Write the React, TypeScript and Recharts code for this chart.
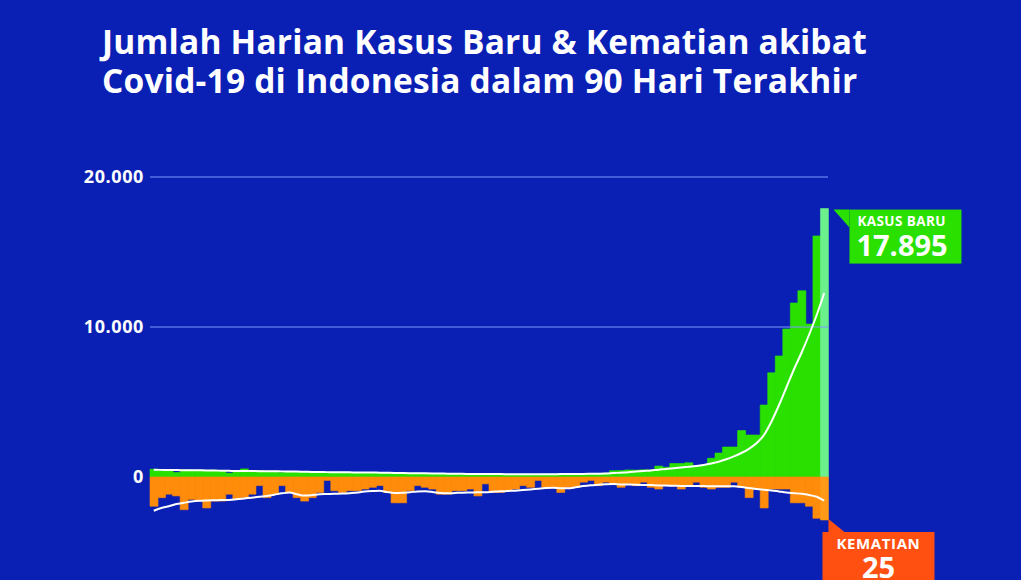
import React from 'react';
import { ComposedChart, Bar, Line, XAxis, YAxis, ReferenceLine, Cell } from 'recharts';

// daily new cases, last 90 days
const newCases = [
  520, 480, 500, 300, 480, 470, 450, 440, 460, 430,
  260, 420, 540, 400, 420, 380, 390, 300, 370, 360,
  350, 330, 340, 300, 320, 310, 300, 280, 260, 300,
  280, 270, 260, 250, 240, 250, 230, 200, 210, 220,
  200, 190, 210, 200, 180, 190, 200, 180, 170, 190,
  180, 170, 200, 190, 210, 220, 200, 210, 230, 240,
  260, 420, 430, 470, 460, 480, 470, 730, 650, 900,
  900, 950, 750, 800, 1250, 1600, 2000, 2000, 3100, 2800,
  2800, 4800, 6950, 8070, 9870, 11600, 12420, 10200, 16070, 17895,
];

// 7-day average of new cases
const casesAvg = [
  480, 475, 470, 460, 455, 450, 445, 440, 430, 420,
  410, 400, 400, 395, 390, 385, 380, 375, 370, 360,
  350, 340, 335, 325, 320, 315, 310, 305, 300, 295,
  290, 280, 270, 262, 255, 250, 242, 235, 228, 222,
  215, 210, 205, 200, 198, 195, 192, 190, 188, 186,
  185, 185, 186, 188, 192, 196, 200, 205, 212, 220,
  230, 260, 290, 320, 360, 400, 440, 490, 530, 580,
  630, 680, 730, 800, 900, 1020, 1180, 1370, 1600, 1880,
  2250, 2800, 3700, 4800, 6000, 7200, 8300, 9500, 10800, 12270,
];

// daily deaths
const deaths = [
  17, 12, 10, 11, 19, 13, 14, 18, 14, 14,
  10, 13, 12, 10, 5, 12, 10, 5, 9, 12,
  14, 12, 9, 2, 8, 9, 8, 8, 7, 6,
  5, 9, 15, 15, 8, 5, 6, 7, 10, 10,
  8, 8, 7, 11, 4, 9, 9, 8, 7, 5,
  6, 2, 6, 6, 9, 6, 6, 3, 2, 5,
  3, 4, 6, 4, 5, 3, 6, 7, 5, 5,
  7, 5, 3, 6, 7, 6, 6, 3, 6, 12,
  7, 18, 7, 7, 7, 15, 15, 17, 24, 25,
];

// 7-day average of deaths
const deathsAvg = [
  19.6, 18, 17, 15.7, 15, 14.3, 13.8, 13.6, 13.5, 13.4,
  13.4, 13, 12.5, 12, 11.5, 11, 10.3, 9.5, 9, 10,
  10.8, 10.5, 10, 9.9, 9.8, 9.6, 9.5, 9, 8.5, 8.2,
  8, 8.8, 9.3, 9.2, 8.8, 8.4, 8.3, 8.7, 9.3, 9.5,
  9.3, 9.1, 9, 8.9, 8.9, 8.6, 8.3, 8.1, 8, 7.6,
  7.2, 6.8, 6.4, 6.2, 6.5, 6.6, 6, 5.3, 4.8, 4.5,
  4.2, 4.1, 4.3, 4.4, 4.5, 4.6, 4.7, 4.9, 5, 5.1,
  5.2, 5.2, 5.3, 5.3, 5.4, 5.4, 5.4, 5.4, 5.8, 6.4,
  7, 7.4, 7.8, 8.4, 9, 9.4, 9.8, 10.5, 11.5, 13.8,
];

const yTicks = [0, 10000, 20000];
const gridValues = [10000, 20000];

const BG = '#0a20b4';
const GREEN = '#2ae000';
const GREEN_LAST = '#6cf08c';
const ORANGE = '#ff8c0a';
const ORANGE_LAST = '#ff9a18';
const FONT = '"Open Sans", sans-serif';
const LAST = newCases.length - 1;

const data = newCases.map((c, i) => ({
  cases: c,
  casesAvg: casesAvg[i],
  // deaths are drawn downward from the zero line
  deaths: -deaths[i],
  deathsAvg: -deathsAvg[i],
}));

const fmt = (v: number) => String(v).replace(/\B(?=(\d{3})+(?!\d))/g, '.');

const CasesLabel = (props: any) => {
  const { x, y, width, index, value } = props;
  if (index !== undefined ? index !== LAST : value !== newCases[LAST]) return null;
  const left = x + width + 21;
  const top = y + 1;
  return (
    <g>
      <polygon points={`${left - 16},${top} ${left},${top} ${left},${top + 18}`} fill={GREEN} />
      <rect x={left} y={top} width={112} height={54} fill={GREEN} />
      <text x={left + 8} y={top + 16} fill='#fff' fontFamily={FONT} fontWeight={700} fontSize={13.5} letterSpacing={0.4}>
        KASUS BARU
      </text>
      <text x={left + 7} y={top + 46} fill='#fff' fontFamily={FONT} fontWeight={700} fontSize={29}>
        {fmt(value)}
      </text>
    </g>
  );
};

const DeathsLabel = (props: any) => {
  const { x, y, height, index, value } = props;
  if (index !== undefined ? index !== LAST : value !== -deaths[LAST]) return null;
  const bottom = Math.max(y, y + height);
  const left = x + 2;
  const top = bottom + 12;
  return (
    <g>
      <polygon points={`${left + 6},${bottom - 1} ${left + 6},${top} ${left + 22},${top}`} fill='#ff5012' />
      <rect x={left} y={top} width={112} height={60} fill='#ff5012' />
      <text x={left + 56} y={top + 17} textAnchor='middle' fill='#fff' fontFamily={FONT} fontWeight={700} fontSize={15} letterSpacing={0.6}>
        KEMATIAN
      </text>
      <text x={left + 56} y={top + 46} textAnchor='middle' fill='#fff' fontFamily={FONT} fontWeight={700} fontSize={29}>
        {Math.abs(value)}
      </text>
    </g>
  );
};

export default function App() {
  return (
    <div style={{ position: 'fixed', left: 0, top: 0, width: 1021, height: 580, background: BG, overflow: 'hidden' }}>
      <div
        style={{
          position: 'absolute',
          left: 102,
          top: 22,
          color: '#fff',
          fontFamily: FONT,
          fontWeight: 700,
          fontSize: 33.5,
          lineHeight: '39px',
          letterSpacing: 0.2,
          whiteSpace: 'nowrap',
        }}
      >
        Jumlah Harian Kasus Baru &amp; Kematian akibat
        <br />
        Covid-19 di Indonesia dalam 90 Hari Terakhir
      </div>
      <div style={{ position: 'absolute', left: 0, top: 0 }}>
        <ComposedChart
          width={1021}
          height={580}
          data={data}
          margin={{ top: 177, right: 193, bottom: 40, left: 0 }}
          barCategoryGap={0}
          barGap={0}
        >
          <XAxis xAxisId='x1' hide />
          <XAxis xAxisId='x2' hide />
          <YAxis
            yAxisId='c'
            width={150}
            domain={[-4200, 20000]}
            ticks={yTicks}
            allowDataOverflow
            axisLine={false}
            tickLine={false}
            tickSize={6}
            tickMargin={0}
            tickFormatter={fmt}
            tick={{ fill: '#fff', fontFamily: FONT, fontWeight: 700, fontSize: 18, letterSpacing: 0.6 }}
          />
          <YAxis yAxisId='d' hide domain={[-36.63, 174.42]} allowDataOverflow />
          {gridValues.map((v) => (
            <ReferenceLine key={v} xAxisId='x1' yAxisId='c' y={v} stroke='#7e98ff' strokeWidth={1} />
          ))}
          <Bar xAxisId='x1' yAxisId='c' dataKey='cases' isAnimationActive={false} label={CasesLabel}>
            {data.map((_, i) => (
              <Cell
                key={`c-${i}`}
                fill={i === LAST ? GREEN_LAST : GREEN}
                stroke={i === LAST ? GREEN_LAST : GREEN}
                strokeWidth={0.6}
              />
            ))}
          </Bar>
          <Bar xAxisId='x2' yAxisId='d' dataKey='deaths' isAnimationActive={false} label={DeathsLabel}>
            {data.map((_, i) => (
              <Cell
                key={`d-${i}`}
                fill={i === LAST ? ORANGE_LAST : ORANGE}
                stroke={i === LAST ? ORANGE_LAST : ORANGE}
                strokeWidth={0.6}
              />
            ))}
          </Bar>
          <Line
            xAxisId='x1'
            yAxisId='c'
            dataKey='casesAvg'
            type='monotone'
            stroke='#fff'
            strokeWidth={2}
            dot={false}
            isAnimationActive={false}
          />
          <Line
            xAxisId='x2'
            yAxisId='d'
            dataKey='deathsAvg'
            type='monotone'
            stroke='#fff'
            strokeWidth={2}
            dot={false}
            isAnimationActive={false}
          />
        </ComposedChart>
      </div>
    </div>
  );
}
